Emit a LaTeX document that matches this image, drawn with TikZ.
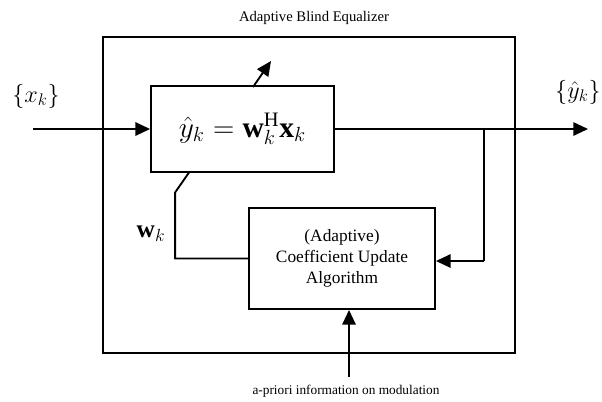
\documentclass[tikz,border=0pt]{standalone}
\usepackage{fontspec}
\setmainfont{Liberation Serif}
\usetikzlibrary{arrows.meta}

% math labels, somewhat larger than \LARGE allows
\newcommand{\eqlabel}[2][1.05]{\scalebox{#1}{\fontsize{17.28}{20}\selectfont$#2$}}

\begin{document}
\begin{tikzpicture}[x=0.75pt, y=-0.75pt, line join=miter]
  % styles for the boxes and the signal lines
  \tikzset{
    block/.style={draw, line width=1.4pt, inner sep=0pt},
    signal/.style={line width=1.4pt, -{Triangle[length=11pt,width=10pt]}},
    wire/.style={line width=1.4pt},
  }

  \useasboundingbox (0,0) rectangle (602,401);

  % enclosing equalizer
  \node[block, minimum width=309pt, minimum height=237pt] (eq) at (309,195) {};
  \node[font=\fontsize{11}{13}\selectfont] (title) at (314,18) {Adaptive Blind Equalizer};

  % filter and update blocks
  \node[block, minimum width=137.25pt, minimum height=64.5pt] (filt) at (242.5,129)
    {\eqlabel[1.28]{\hat{y}_k=\mathbf{w}_k^{\mathrm{H}}\mathbf{x}_k}};
  \node[block, minimum width=139.5pt, minimum height=75.75pt, align=center,
        font=\fontsize{13}{15.5}\selectfont] (upd) at (342,258.5)
    {(Adaptive)\\ Coefficient Update\\ Algorithm};

  % labels
  \node (xin) at (36,96) {\eqlabel{\{x_k\}}};
  \node (yout) at (578,92) {\eqlabel{\{\hat{y}_k\}}};
  \node (wk) at (151,234) {\eqlabel[1.1]{\mathbf{w}_k}};
  \node[font=\fontsize{10}{12}\selectfont] (apri) at (346,391) {a-priori information on modulation};

  % named end points
  \coordinate (in) at (33,129);
  \coordinate (out) at (588,129);
  \coordinate (tap) at (484,129);
  \coordinate (back) at (484,261);
  \coordinate (src) at (349,377);
  \coordinate (adj0) at (253,87);
  \coordinate (adj1) at (271,61);

  % signal path
  \draw[signal] (in) -- (filt.west |- in);
  \draw[signal] (filt.east |- out) -- (out);
  \draw[wire] (tap) -- (back);
  \draw[signal] (back) -- (upd.east |- back);
  \draw[signal] (src) -- (upd.south -| src);
  \draw[signal] (adj0) -- (adj1);

  % coefficient path back to the filter
  \draw[wire] (upd.west) -- ++(-73,0) -- ++(0,-66) -- (189,172.5);
\end{tikzpicture}
\end{document}
